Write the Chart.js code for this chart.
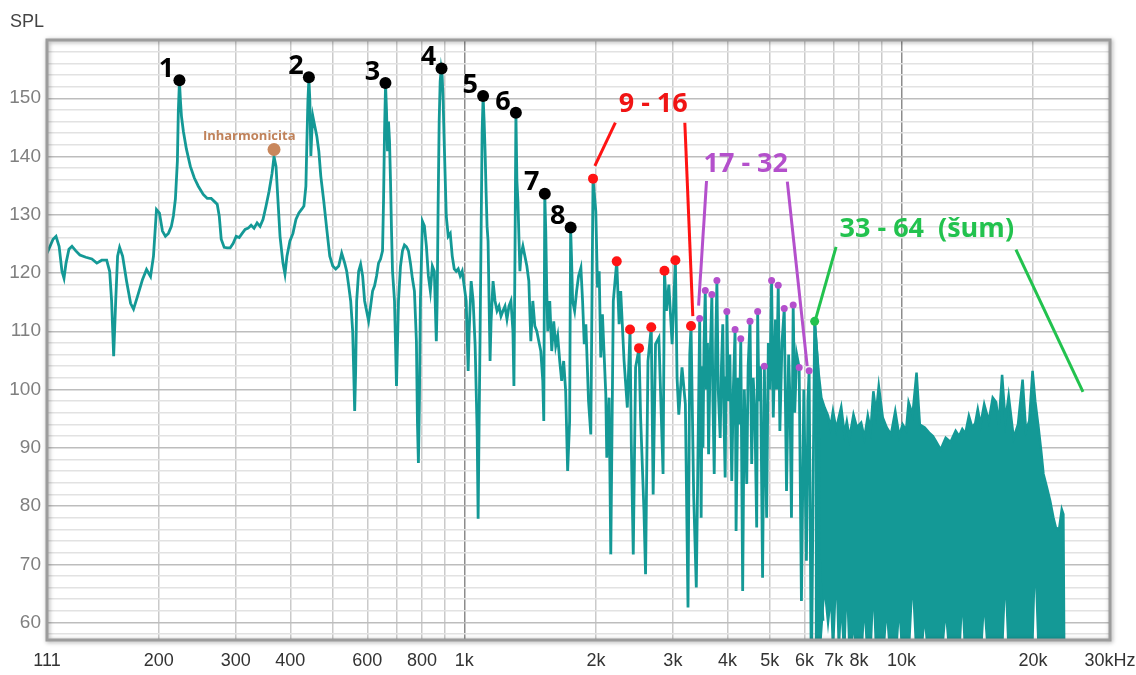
<!DOCTYPE html>
<html>
<head>
<meta charset="utf-8">
<script src="https://cdn.jsdelivr.net/npm/chart.js@4.4.1/dist/chart.umd.min.js"></script>
<style>
  html, body { margin: 0; padding: 0; background: #fff; }
  #wrap { width: 1136px; height: 675px; }
</style>
</head>
<body>
<div id="wrap"><canvas id="spektrum"></canvas></div>
<script>
// frekvence (Hz), hladina (dB)
const spectrum = [
  [111,123.4],[112.8,124.6],[114.6,125.8],[116.4,126.3],[118.3,124.6],[120.1,120.3],[121.4,119.1],[122.7,121.7],
  [124.6,124.1],[126.6,124.6],[129.2,123.8],[132,123.1],[136.2,122.7],[140.6,122.4],[144.3,121.7],[148.1,122.2],
  [152,122.2],[154.4,120.3],[156,115.2],[157.7,105.7],[159.4,115.2],[161,122.9],[162.7,124.4],[165.3,122.9],
  [168.8,118.6],[172.4,114.8],[175.1,113.8],[178.8,116.0],[183.6,118.9],[187.5,120.6],[191.5,119.4],[194.5,122.9],
  [197.6,130.9],[200.7,130.3],[203.9,127.2],[207.1,126.3],[210.4,126.8],[213.7,128.0],[216,129.8],[218.3,132.7],
  [220.6,139.2],[221.7,147.8],[223,152.9],[224.2,149.5],[225.4,146.9],[227.7,144.3],[231.3,141.3],[236.2,138.3],
  [241.2,136.3],[246.3,134.9],[252.8,133.5],[258.2,132.8],[263.6,132.8],[267.9,132.3],[272.1,131.8],[275,129.8],
  [277.9,125.8],[282.3,124.4],[286.8,124.3],[291.3,124.3],[296,125.1],[300.7,126.3],[305.5,126.1],[310.3,126.8],
  [315.2,127.5],[320.3,127.7],[325.3,128.2],[330.4,127.7],[335.7,128.6],[341,128.0],[346.4,129.2],[351.9,131.5],
  [357.5,134.0],[363.2,137.1],[367,140.0],[370.9,138.3],[374.8,132.3],[378.8,126.3],[384.7,121.7],[388.8,119.8],
  [392.9,122.9],[399.1,125.5],[405.5,126.8],[411.9,129.2],[418.4,130.3],[425.1,131.0],[429.6,131.5],[434.1,134.9],
  [436.4,142.6],[438.7,149.5],[441,153.4],[443.3,149.5],[445.6,140.1],[448,144.3],[450.3,146.9],[455,145.2],
  [459.8,143.5],[464.7,140.9],[469.6,136.6],[477,132.3],[484.6,127.5],[492.3,122.9],[500.1,121.2],[508,120.7],
  [516,121.2],[524.2,123.4],[532.6,121.7],[538.2,120.3],[543.9,117.8],[549.6,115.2],[555.4,110.0],[558.4,103.2],
  [561.3,96.3],[564.2,103.2],[567.2,115.2],[573.2,120.3],[579.2,121.5],[585.3,119.5],[591.5,115.2],[597.7,113.5],
  [604,111.8],[610.4,114.3],[616.8,116.9],[623.3,117.8],[629.9,119.5],[636.5,121.7],[643.2,122.4],[650,123.8],
  [653.4,132.3],[656.9,144.3],[660.4,152.4],[663.8,147.8],[667.3,140.9],[670.8,146.0],[674.4,142.6],[677.9,135.8],
  [681.5,127.2],[685.1,120.3],[692.3,115.2],[699.6,100.6],[707,115.2],[714.5,121.2],[722,123.8],[729.6,124.8],
  [737.3,124.5],[745.1,123.8],[752.9,121.7],[760.9,119.0],[768.9,116.9],[777,108.3],[781.1,94.6],[785.2,87.4],
  [789.4,98.0],[793.5,115.2],[801.9,128.9],[810.3,128.1],[818.9,124.6],[827.5,119.5],[836.2,116.9],[845,121.2],
  [853.8,120.3],[862.9,108.3],[866.8,115.2],[871.4,132.3],[876,146.1],[880.6,152.9],[885.2,155.0],[889.9,153.8],
  [894.5,149.5],[899.4,142.6],[904.6,135.8],[909.3,129.8],[918.9,126.3],[928.6,126.8],[938.4,122.9],[948.3,120.7],
  [958.3,120.3],[968.4,120.7],[978.6,119.5],[988.9,120.3],[999.3,117.8],[1009.9,115.2],[1020.5,103.2],[1025.9,110.0],
  [1036.7,118.6],[1047.6,115.2],[1058.7,107.5],[1069.9,92.9],[1075.5,77.8],[1081.2,94.6],[1086.9,110.0],[1092.6,127.2],
  [1098.4,144.3],[1104.1,150.3],[1110,146.1],[1115.6,140.9],[1121.5,134.0],[1127.4,128.0],[1133.3,125.5],[1139.3,115.2],
  [1145.3,104.9],[1151.4,111.7],[1163.5,118.6],[1175.7,115.2],[1188.1,113.5],[1200.6,114.3],[1213.3,112.6],[1226.1,113.5],
  [1238.9,114.3],[1252,112.1],[1265.1,114.3],[1278.5,115.2],[1291.9,110.0],[1298.7,100.6],[1305.6,122.0],[1312.4,147.4],
  [1319.3,135.8],[1326.3,132.3],[1333.2,126.3],[1340.3,120.3],[1347.3,123.0],[1361.5,124.6],[1375.8,122.9],[1390.2,121.2],
  [1404.8,118.6],[1419.6,108.3],[1434.6,115.2],[1449.8,110.9],[1465.1,110.0],[1480.5,108.3],[1496.1,106.6],[1511.8,101.5],
  [1519.8,94.6],[1527.8,133.5],[1535.8,127.2],[1543.9,116.9],[1552,110.0],[1568.4,115.2],[1584.9,106.6],[1601.6,111.7],
  [1618.5,107.5],[1635.5,109.2],[1652.7,104.9],[1670.1,101.5],[1687.7,104.9],[1705.5,99.7],[1723.4,86.0],[1741.6,94.6],
  [1750.7,127.7],[1760,122.0],[1769.2,115.2],[1787.9,113.5],[1806.7,116.9],[1825.7,119.5],[1848,120.9],[1864.4,115.2],
  [1881,107.8],[1897,111.2],[1924,98.0],[1947,92.3],[1970,136.2],[1999,130.6],[2017,117.5],[2035,120.3],
  [2052,105.5],[2070,112.9],[2107,99.2],[2118,88.3],[2144,98.6],[2163,71.7],[2192,115.2],[2232,122.0],
  [2260,111.2],[2279,116.9],[2320,104.9],[2360,96.9],[2394,110.3],[2410,90.6],[2435,71.7],[2465,103.8],
  [2510,107.1],[2531,95.2],[2576,79.2],[2598,68.3],[2631,104.9],[2677,110.7],[2704,82.0],[2738,107.8],
  [2787,108.9],[2849,85.5],[2870,120.4],[2900,113.5],[2937,118.0],[2988,107.8],[3040,122.2],[3067,102.0],
  [3095,95.7],[3148,103.8],[3204,97.5],[3249,62.6],[3279,106.0],[3301,110.9],[3347,82.0],[3394,66.0],
  [3455,112.2],[3470,95],[3482,78.0],[3500,104],[3515,90],[3535,108],[3558,117.0],[3580,100],
  [3600,108],[3621,88.9],[3650,105],[3684,116.3],[3705,98],[3730,85.5],[3760,108],[3783,118.7],
  [3810,100],[3849,91.7],[3875,104],[3902,111.2],[3925,96],[3951,84.9],[3970,102],[3986,113.4],
  [4020,98],[4050,106],[4091,84.3],[4125,100],[4163,110.3],[4185,75.7],[4230,102],[4260,94],
  [4290,108.7],[4333,65.4],[4370,100],[4400,92],[4427,83.8],[4460,104],[4504,111.7],[4544,87.2],
  [4580,102],[4620,96],[4665,76.3],[4689,113.4],[4720,98],[4760,104],[4812,67.7],[4857,104.0],
  [4916,78.0],[4960,108],[5000,100],[5046,118.7],[5091,95.2],[5150,112],[5180,100],[5226,117.9],
  [5271,92.9],[5330,108],[5394,113.9],[5459,82.6],[5520,106],[5560,98],[5603,78.0],[5654,114.5],
  [5700,96],[5760,106],[5835,103.8],[5905,63.7],[5980,100],[6062,70.6],[6110,98],[6149,103.2],
  [6222,50],[6331,111.7],[6445,103.7],[6500,69.4],[6616,60.3]
];

// šumové pásmo nad 6 kHz: frekvence, horní obálka, spodní (bílé) mezery
const bandHz = [
  6331,6445,6558,6672,6792,6880,6972,7094,7180,7282,7409,7500,7605,7767,7907,8087,
  8228,8376,8500,8626,8750,8874,9061,9250,9464,9679,9885,10062,10250,10384,10604,10828,
  11017,11300,11567,11800,11981,12298,12626,12950,13305,13550,13779,14000,14265,14520,14750,14949,
  15166,15464,15840,16176,16467,16693,16993,17290,17591,18057,18480,18930,19271,19607,19949,20234,
  20586,20871,21131,21511,21885,22268,22551,22945,23270,23466,23590
];
const bandUpper = [
  111.7,103.7,98.6,96.9,95.5,93.5,96.3,93.2,95.0,97.0,92.4,94.5,91.7,95.7,93.5,94.3,
  91.7,95.5,93.0,99.7,96.0,100.6,95.2,93.5,92.3,96.3,92.0,94.0,93.0,97.8,95.7,102.9,
  94.0,93.5,92.6,92.0,91.2,89.7,91.7,91.0,92.9,92.0,93.2,92.4,95.5,93.5,94.2,96.6,
  94.0,97.5,94.6,98.6,97.8,94.0,102.5,94.6,98.9,91.7,94.0,101.7,92.9,94.6,103.2,98.0,
  93.5,89.5,85.5,83.2,80.9,78.0,76.3,76.0,79.4,78.6,50
];
const bandLower = [
  50,50,56,64,58,62,50,64,50,60,50,62,50,58,50,50,
  60,50,50,62,50,57,50,60,50,50,60,50,50,50,64,50,
  50,59,50,50,50,50,60,50,50,50,61,50,50,50,50,50,
  50,61,50,50,50,50,50,64,50,50,50,50,50,50,50,66,
  50,50,50,50,50,50,50,50,50,50,50
];

// vyznačené harmonické
const harmonics1to8 = [[223,153.1],[441,153.6],[660,152.6],[887,155.1],[1104,150.4],[1312,147.5],[1528,133.6],[1751,127.8]];
const harmonics9to16 = [[1970,136.2],[2232,122.0],[2394,110.3],[2510,107.1],[2677,110.7],[2870,120.4],[3040,122.2],[3301,110.9]];
const harmonics17to32 = [[3455,112.2],[3558,117.0],[3684,116.3],[3783,118.7],[3986,113.4],[4163,110.3],[4290,108.7],[4504,111.7],
  [4689,113.4],[4857,104.0],[5046,118.7],[5226,117.9],[5394,113.9],[5654,114.5],[5835,103.8],[6149,103.2]];
const harmonic33 = [[6331,111.7]];
const inharmonic = [[367,141.2]];

// odkazové čáry k popiskům
const redLeaders = [[[2216,145.8],[1989,138.4]], [[3195,145.8],[3332,112.6]]];
const purpleLeaders = [[[3582,135.8],[3435,114.4]], [[5482,135.7],[6087,104.0]]];
const greenLeaders = [[[7087,124.5],[6358,112.0]], [[18278,124.0],[26019,99.6]]];

const groupLabels = [
  ['9 - 16', 2705, 148.9, '#f01414', 'bold 27px "Open Sans"'],
  ['17 - 32', 4404, 138.6, '#b450cc', 'bold 27px "Open Sans"'],
  ['33 - 64  (šum)', 11429, 127.5, '#22c24e', 'bold 27px "Open Sans"'],
  ['Inharmonicita', 322, 143.5, '#c0825a', 'bold 13px "Open Sans"']
];

const xTicks = [111,200,300,400,500,600,700,800,900,1000,2000,3000,4000,5000,6000,7000,8000,9000,10000,20000,30000];
const xTickLabels = ['111','200','300','400','','600','','800','','1k','2k','3k','4k','5k','6k','7k','8k','','10k','20k','30kHz'];
const yTicks = [58,60,62,64,66,68,70,72,74,76,78,80,82,84,86,88,90,92,94,96,98,100,102,104,106,108,110,
  112,114,116,118,120,122,124,126,128,130,132,134,136,138,140,142,144,146,148,150,152,154,156,158,160];

const teal = '#149996';
const toXY = arr => arr.map(([x, y]) => ({x, y}));

const dots = (data, color, r) => ({
  data: toXY(data), showLine: false, pointRadius: r, pointHoverRadius: r,
  pointBackgroundColor: color, pointBorderWidth: 0, order: 0
});
const leader = (seg, color) => ({
  data: toXY(seg), showLine: true, borderColor: color, borderWidth: 3,
  pointRadius: 0, fill: false, order: 1
});

const datasets = [
  dots(harmonics1to8, '#000000', 6),
  dots(harmonics9to16, '#ff1414', 5),
  dots(harmonics17to32, '#b450cc', 3.5),
  dots(harmonic33, '#22c24e', 4.5),
  dots(inharmonic, '#c9875c', 6.5),
  ...redLeaders.map(s => leader(s, '#ff1414')),
  ...purpleLeaders.map(s => leader(s, '#b450cc')),
  ...greenLeaders.map(s => leader(s, '#22c24e')),
  {data: toXY(spectrum), showLine: true, borderColor: teal, borderWidth: 2.8, pointRadius: 0, tension: 0, fill: false, order: 2},
  // bílé mezery u dna pásma (kreslí se nad výplní pásma)
  {data: bandHz.map((x, i) => ({x, y: bandLower[i]})), showLine: true, borderColor: '#ffffff', borderWidth: 0,
    pointRadius: 0, backgroundColor: '#ffffff', fill: 'start', order: 3},
  {data: bandHz.map((x, i) => ({x, y: bandUpper[i]})), showLine: true, borderColor: teal, borderWidth: 2.5,
    pointRadius: 0, backgroundColor: teal, fill: 'start', order: 3}
];

const popisky = {
  id: 'popisky',
  afterDatasetsDraw(chart) {
    const {ctx, scales: {x, y}} = chart;
    ctx.save();
    ctx.textAlign = 'center';
    ctx.textBaseline = 'middle';
    ctx.fillStyle = '#000';
    ctx.font = 'bold 27px "Open Sans"';
    harmonics1to8.forEach(([f, db], i) => {
      ctx.fillText(String(i + 1), x.getPixelForValue(f) - 13, y.getPixelForValue(db) - 11);
    });
    groupLabels.forEach(([text, f, db, color, font]) => {
      ctx.fillStyle = color;
      ctx.font = font;
      ctx.fillText(text, x.getPixelForValue(f), y.getPixelForValue(db));
    });
    ctx.restore();
  }
};

const ramecek = {
  id: 'ramecek',
  afterDraw(chart) {
    const {ctx, chartArea: a} = chart;
    ctx.save();
    ctx.shadowColor = 'rgba(0,0,0,0.35)';
    ctx.shadowBlur = 4;
    ctx.shadowOffsetX = 1;
    ctx.shadowOffsetY = 1;
    ctx.strokeStyle = '#9c9c9c';
    ctx.lineWidth = 3;
    ctx.strokeRect(a.left, a.top, a.right - a.left, a.bottom - a.top);
    ctx.restore();
    ctx.save();
    ctx.fillStyle = '#444';
    ctx.font = '18px "Liberation Sans"';
    ctx.textBaseline = 'middle';
    ctx.fillText('SPL', 10, 22);
    ctx.restore();
  }
};

new Chart(document.getElementById('spektrum'), {
  type: 'scatter',
  data: {datasets},
  options: {
    responsive: true,
    maintainAspectRatio: false,
    animation: false,
    layout: {padding: {top: 40, left: 0, right: 0, bottom: 0}},
    plugins: {legend: {display: false}, tooltip: {enabled: false}},
    scales: {
      x: {
        type: 'logarithmic',
        min: 111,
        max: 30000,
        afterBuildTicks: s => { s.ticks = xTicks.map(v => ({value: v})); },
        afterFit: s => { s.height = 35; s.paddingRight = 26; s.paddingLeft = 0; },
        border: {display: false},
        grid: {
          drawTicks: false,
          lineWidth: 1.5,
          color: c => (c.tick && (c.tick.value === 1000 || c.tick.value === 10000)) ? '#8c8c8c' : '#cacaca'
        },
        ticks: {
          autoSkip: false, maxRotation: 0, padding: 10,
          color: '#333',
          font: {family: '"Liberation Sans", sans-serif', size: 18},
          callback: (v, i) => xTickLabels[i]
        }
      },
      y: {
        min: 57,
        max: 160,
        afterBuildTicks: s => { s.ticks = yTicks.map(v => ({value: v})); },
        afterFit: s => { s.width = 47; },
        border: {display: false},
        grid: {
          drawTicks: false,
          lineWidth: 1.5,
          color: c => (c.tick && c.tick.value % 10 === 0) ? '#bdbdbd' : '#e2e2e2'
        },
        ticks: {
          autoSkip: false,
          padding: 6,
          color: '#808080',
          font: {family: '"Liberation Sans", sans-serif', size: 19},
          callback: v => (v % 10 === 0 && v <= 150) ? String(v) : ''
        }
      }
    }
  },
  plugins: [popisky, ramecek]
});
</script>
</body>
</html>
